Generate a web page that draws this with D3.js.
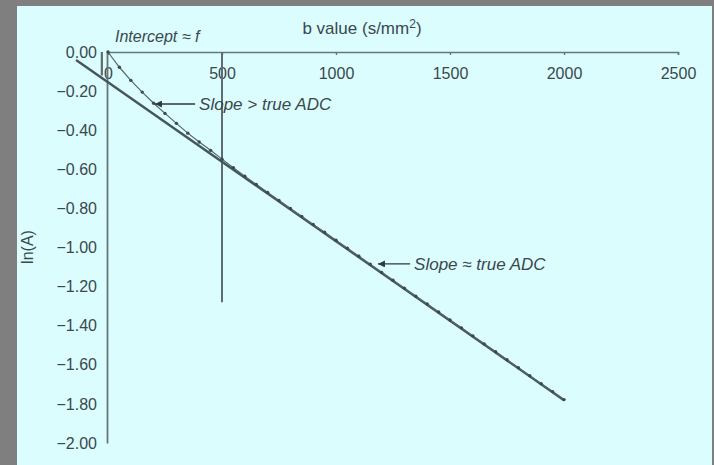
<!DOCTYPE html>
<html>
<head>
<meta charset="utf-8">
<script src="https://cdn.jsdelivr.net/npm/d3@7"></script>
<style>
html,body{margin:0;padding:0;background:#7f7f7f;overflow:hidden;}
svg{display:block;}
</style>
</head>
<body>
<svg id="chart" width="714" height="465"></svg>
<script>
// ---- data ----
const bValues = [0,50,100,150,200,250,300,350,400,450,500,550,600,650,700,750,800,850,900,950,1000,
  1050,1100,1150,1200,1250,1300,1350,1400,1450,1500,1550,1600,1650,1700,1750,1800,1850,1900,1950,2000];
const lnA = [0,-0.078,-0.145,-0.205,-0.262,-0.314,-0.365,-0.415,-0.460,-0.503,-0.548,-0.592,-0.635,-0.677,-0.718,
  -0.759,-0.800,-0.841,-0.882,-0.922,-0.963,-1.004,-1.045,-1.086,-1.127,-1.167,-1.208,-1.249,-1.289,-1.330,
  -1.371,-1.411,-1.452,-1.493,-1.533,-1.574,-1.615,-1.656,-1.697,-1.737,-1.778];
const fitB = [-140, 2000];
const fitLnA = [-0.041, -1.781];
const cutB = [500, 500];
const cutLnA = [0, -1.28];
const interceptB = [-27, -27];
const interceptLnA = [0, -0.12];
const xTicks = [0,500,1000,1500,2000,2500];
const xTickLabels = ["0","500","1000","1500","2000","2500"];
const yTicks = [0,-0.2,-0.4,-0.6,-0.8,-1.0,-1.2,-1.4,-1.6,-1.8,-2.0];
const yTickLabels = ["0.00","\u22120.20","\u22120.40","\u22120.60","\u22120.80","\u22121.00","\u22121.20","\u22121.40","\u22121.60","\u22121.80","\u22122.00"];
const annotations = [
  {text:"Slope > true ADC", tipB:206, tailB:382, v:-0.266},
  {text:"Slope \u2248 true ADC", tipB:1184, tailB:1325, v:-1.084}
];

// ---- drawing ----
const svg = d3.select("#chart");
const ink = "#45555b";
const txt = "#3a484d";
const font = "'Liberation Sans', Arial, sans-serif";

svg.append("rect").attr("x",17).attr("y",6).attr("width",695).attr("height",470).attr("fill","#dbfdfd");

const x = d3.scaleLinear().domain([0,2500]).range([108,678]);
const y = d3.scaleLinear().domain([0,-2]).range([52,443]);

svg.append("defs").append("marker")
  .attr("id","ah").attr("viewBox","0 0 10 10").attr("refX",10).attr("refY",5)
  .attr("markerWidth",9).attr("markerHeight",7).attr("markerUnits","userSpaceOnUse")
  .attr("orient","auto")
  .append("path").attr("d","M0,0L10,5L0,10Z").attr("fill","#2f3a3e");

// x axis (top)
const xAxis = d3.axisBottom(x).tickValues(xTicks).tickFormat((d,i)=>xTickLabels[i]).tickSize(3).tickSizeOuter(3).tickPadding(13);
const gx = svg.append("g").attr("transform",`translate(0,${y(0)})`).call(xAxis);
gx.select(".domain").attr("stroke","#66767b").attr("stroke-width",1.6);
gx.selectAll(".tick line").attr("stroke","#66767b").attr("stroke-width",1.4);
gx.selectAll("text").attr("fill",txt).style("font-family",font).style("font-size","16px");

// y axis
const yAxis = d3.axisLeft(y).tickValues(yTicks).tickFormat((d,i)=>yTickLabels[i]).tickSize(0).tickSizeOuter(0).tickPadding(10);
const gy = svg.append("g").attr("transform",`translate(${x(0)-1},0)`).call(yAxis);
gy.select(".domain").attr("stroke","#66767b").attr("stroke-width",1.8);
gy.selectAll("text").attr("fill",txt).style("font-family",font).style("font-size","16px");

const line = d3.line().x(d=>x(d[0])).y(d=>y(d[1]));

// vertical cut at b=500
svg.append("path").datum(d3.zip(cutB,cutLnA)).attr("d",line)
  .attr("stroke","#5d6d72").attr("stroke-width",2).attr("fill","none");

// intercept marker
svg.append("path").datum(d3.zip(interceptB,interceptLnA)).attr("d",line)
  .attr("stroke","#5d6d72").attr("stroke-width",2.2).attr("fill","none");

// straight fit line
svg.append("path").datum(d3.zip(fitB,fitLnA)).attr("d",line)
  .attr("stroke",ink).attr("stroke-width",2.4).attr("fill","none");

// data curve with dots
const pts = d3.zip(bValues,lnA);
svg.append("path").datum(pts).attr("d",line)
  .attr("stroke","#56666b").attr("stroke-width",1.2).attr("fill","none");
svg.append("g").selectAll("circle").data(pts).join("circle")
  .attr("cx",d=>x(d[0])).attr("cy",d=>y(d[1])).attr("r",1.7).attr("fill","#3c4a4f");

// annotations
annotations.forEach(a=>{
  svg.append("line").attr("x1",x(a.tailB)).attr("x2",x(a.tipB)).attr("y1",y(a.v)).attr("y2",y(a.v))
    .attr("stroke","#2f3a3e").attr("stroke-width",1.4).attr("marker-end","url(#ah)");
  svg.append("text").attr("x",x(a.tailB)+4).attr("y",y(a.v)).attr("dy","0.36em")
    .attr("fill",txt).style("font-family",font).style("font-size","17px").style("font-style","italic")
    .text(a.text);
});

svg.append("text").attr("x",115).attr("y",42).attr("fill",txt)
  .style("font-family",font).style("font-size","16px").style("font-style","italic")
  .text("Intercept \u2248 f");

const title = svg.append("text").attr("x",362).attr("y",34).attr("text-anchor","middle").attr("fill",txt)
  .style("font-family",font).style("font-size","17px");
title.append("tspan").text("b value (s/mm");
title.append("tspan").attr("dy",-6).style("font-size","12px").text("2");
title.append("tspan").attr("dy",6).text(")");

svg.append("text").attr("transform","translate(33,247) rotate(-90)").attr("text-anchor","middle")
  .attr("fill",txt).style("font-family",font).style("font-size","16px").text("ln(A)");
</script>
</body>
</html>
